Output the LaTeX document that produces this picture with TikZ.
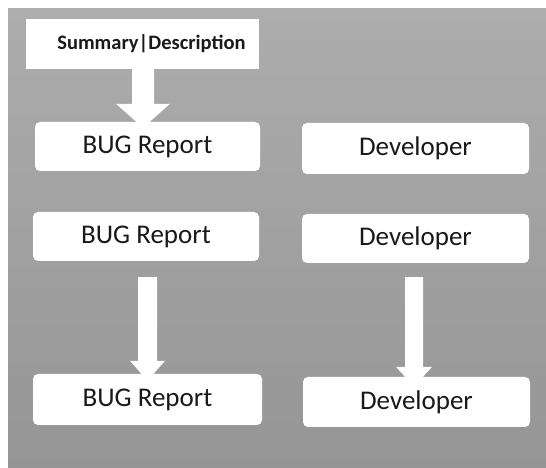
\documentclass[tikz,border=0pt]{standalone}
\usepackage{fontspec}
\setmainfont{Carlito}
\usetikzlibrary{calc}
\definecolor{bgtop}{HTML}{ADADAD}
\definecolor{bgbot}{HTML}{959595}
\tikzset{
  card/.style={fill=white, rounded corners=5pt, inner sep=0pt, font=\fontsize{27}{30}\selectfont, text=black!90},
  headcard/.style={fill=white, inner sep=0pt, font=\fontsize{20.5}{24}\selectfont\bfseries, text=black!90},
}
\newcommand\blockarrow[5]{%
  \fill[white] let \p1=(#1), \p2=(#2) in
    (\x1-#3,\y1) -- (\x1+#3,\y1) -- (\x1+#3,\y2+#5) -- (\x1+#4,\y2+#5) --
    (\x1,\y2) -- (\x1-#4,\y2+#5) -- (\x1-#3,\y2+#5) -- cycle;}
\begin{document}
\begin{tikzpicture}[x=1pt,y=1pt]
\useasboundingbox (0,0) rectangle (546,468);
\shade[top color=bgtop, bottom color=bgbot] (8,0) rectangle (546,459);
\node[headcard, minimum width=233pt, minimum height=50pt] (summ) at (142.5,424) {\hspace*{18pt}Summary|Description};
\node[card, minimum width=225pt, minimum height=49pt] (bug1) at (147.5,321.5) {BUG Report};
\node[card, minimum width=227pt, minimum height=51pt] (dev1) at (415.5,319.5) {Developer};
\node[card, minimum width=226pt, minimum height=49pt] (bug2) at (146,231.5) {BUG Report};
\node[card, minimum width=227pt, minimum height=49pt] (dev2) at (415.5,229.5) {Developer};
\node[card, minimum width=229pt, minimum height=51pt] (bug3) at (147.5,68.5) {BUG Report};
\node[card, minimum width=227pt, minimum height=50pt] (dev3) at (416.5,66) {Developer};
% connectors
\coordinate (a1s) at ($(summ.south)+(0.5,0)$);
\coordinate (a1e) at ($(bug1.north)+(-4.5,-6)$);
\blockarrow{a1s}{a1e}{11}{27}{24}
\coordinate (a2s) at ($(bug2.south)+(1.5,-16)$);
\coordinate (a2e) at ($(bug3.north)+(0.5,-7)$);
\blockarrow{a2s}{a2e}{9.5}{17.5}{20}
\coordinate (a3s) at ($(dev2.south)+(-1.5,-14)$);
\coordinate (a3e) at ($(dev3.north)+(-2.5,-10)$);
\blockarrow{a3s}{a3e}{9}{18}{20}
\end{tikzpicture}
\end{document}
